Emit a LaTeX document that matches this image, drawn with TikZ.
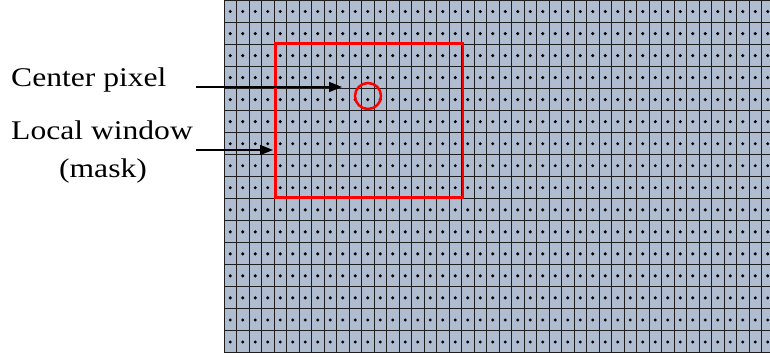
\documentclass[tikz,border=0pt]{standalone}
\usepackage{fontspec}
\usetikzlibrary{arrows.meta}
\newfontfamily\lblfont[FakeStretch=1.17]{Liberation Serif}
\definecolor{cellblue}{RGB}{176,188,208}
\definecolor{gridline}{RGB}{30,30,30}
\tikzset{
  lbl/.style={font=\lblfont\fontsize{27}{30}\selectfont, inner sep=0pt, anchor=base west},
  ptr/.style={line width=1.5pt, -{Triangle[length=13pt,width=10pt]}},
  redmark/.style={draw=red, line width=2.5pt},
  pixdot/.style={fill=black}
}
\begin{document}
\begin{tikzpicture}[x=1pt,y=1pt]
\useasboundingbox (0,0) rectangle (770,358);
% grid of pixels (origin bottom-left; top of grid at y=357.5)
\begin{scope}
\clip (224,4.5) rectangle (770,358);
\fill[cellblue] (224,5) rectangle (775,357.5);
\draw[gridline, line width=1pt, xstep=12.5pt, ystep=22.03pt, shift={(224pt,5pt)}] (0,0) grid (551,352.5);
\foreach \k in {0,...,43} {
  \foreach \j in {0,...,15} {
    \fill[pixdot] ({230.25+12.5*\k},{16+22.03*\j}) circle (1.7pt);
  }
}
\end{scope}
% local window and center pixel
\node[redmark, rectangle, inner sep=0pt, minimum width=187.5pt, minimum height=154.2pt, anchor=south west] (win) at (274,159.2) {};
\node[redmark, circle, inner sep=0pt, minimum size=26pt] (cpix) at (368,262) {};
% labels
\node[lbl] (lc) at (11,271.5) {Center pixel};
\node[lbl] (lw) at (11,218) {Local window};
\node[lbl, anchor=base] (lm) at (103,180) {(mask)};
\coordinate (ca) at (196,271);
\coordinate (cb) at (342,271);
\coordinate (wa) at (196,208);
\coordinate (wb) at (273,208);
\draw[ptr] (ca) -- (cb);
\draw[ptr] (wa) -- (wb);
\end{tikzpicture}
\end{document}
